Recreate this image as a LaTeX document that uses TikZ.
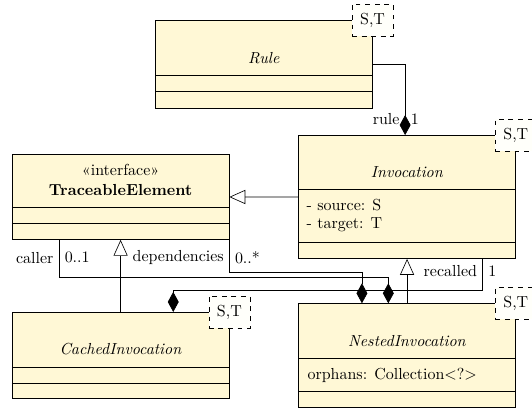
\documentclass[tikz,border=0pt]{standalone}
\usepackage{amsmath}
\usepackage{tikz}
\usetikzlibrary{calc,arrows.meta}
\definecolor{classfill}{RGB}{255,248,214}

\begin{document}
\begin{tikzpicture}[cls/.style = {draw, fill = classfill, anchor = north west, minimum width = 4.77cm}, tmpl/.style = {draw, dashed, fill = yellow!2, minimum width = .9cm, minimum height = .7cm}, comp/.style = {-{Diamond[length = 4.4mm, width = 2.4mm]}}, gen/.style = {-{Triangle[open, length = 3.5mm, width = 3.1mm]}}]
      \useasboundingbox (0, 0) rectangle (11.7, -9);

      % class boxes
      \node [cls, minimum height = 1.94cm] (rule) at (3.41, -.44) {};
      \node [cls, minimum height = 2.71cm] (invocation) at (6.56, -2.97) {};
      \node [cls, minimum height = 1.87cm] (traceable) at (.26, -3.39) {};
      \node [cls, minimum height = 1.89cm] (cached) at (.26, -6.86) {};
      \node [cls, minimum height = 2.29cm] (nested) at (6.56, -6.67) {};

      \foreach \c/\d in {rule/1.21, rule/1.56, invocation/1.19, invocation/2.35, traceable/1.17, traceable/1.52, cached/1.21, cached/1.56, nested/1.21, nested/1.94} {
        \draw ([yshift = -\d cm] \c.north west) -- ([yshift = -\d cm] \c.north east);
      }

      \node (rule-n) at ([yshift = -.84cm] rule.north) {\textit{Rule}};
      \node (invocation-n) at ([yshift = -.81cm] invocation.north) {\textit{Invocation}};
      \node (traceable-s) at ([yshift = -.35cm] traceable.north) {«interface»};
      \node (traceable-n) at ([yshift = -.79cm] traceable.north) {\textbf{TraceableElement}};
      \node (cached-n) at ([yshift = -.81cm] cached.north) {\textit{CachedInvocation}};
      \node (nested-n) at ([yshift = -.84cm] nested.north) {\textit{NestedInvocation}};

      \node [anchor = west] (source) at ([xshift = .06cm, yshift = -1.54cm] invocation.north west) {- source: S};
      \node [anchor = west] (target) at ([xshift = .06cm, yshift = -1.98cm] invocation.north west) {- target: T};
      \node [anchor = west] (orphans) at ([xshift = .08cm, yshift = -1.58cm] nested.north west) {orphans: Collection$<$?$>$};

      % inheritance
      \draw [gen] (invocation) -- (traceable);
      \draw [gen] (cached) -- (traceable);
      \draw [gen] (nested) -- (invocation);

      % compositions
      \draw [comp] (rule.east) -| node[pos = .89, left] {rule} node[pos = .89, right] {1} ([xshift = 2.35cm] invocation.north west);
      \draw [comp] ([xshift = -.73cm] invocation.south east) -- ++(0, -.7) node[pos = .37, left] {recalled} node[pos = .37, right] {1} -| ([xshift = 3.55cm] cached.north west);
      \draw [comp] ([xshift = 1.04cm] traceable.south west) -- ++(0, -.83) node[pos = .47, left] {caller} node[pos = .47, right] {0..1} -| ([xshift = 1.98cm] nested.north west);
      \draw [comp] (traceable.south east) -- ++(0, -.72) node[pos = .54, left] {dependencies} node[pos = .54, right] {0..*} -| ([xshift = 1.4cm] nested.north west);

      \foreach \c in {rule, invocation, cached, nested} {
        \node [tmpl] (\c-t) at (\c.north east) {S,T};
      }
    \end{tikzpicture}
\end{document}
